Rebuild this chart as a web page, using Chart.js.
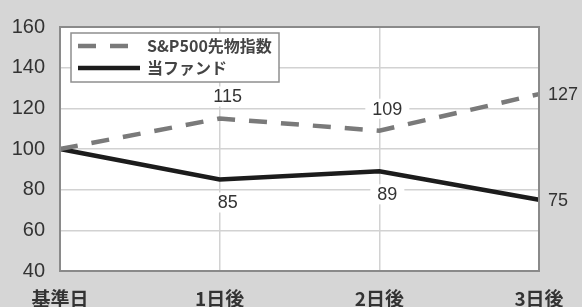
<!DOCTYPE html>
<html>
<head>
<meta charset="utf-8">
<script src="https://cdn.jsdelivr.net/npm/chart.js@4.4.0/dist/chart.umd.min.js"></script>
<style>
  html, body { margin: 0; padding: 0; background: #d6d6d6; }
  canvas { display: block; }
</style>
</head>
<body>
<canvas id="chart" width="582" height="307"></canvas>
<script>
const categories = ['基準日', '1日後', '2日後', '3日後'];
const sp500Values = [100, 115, 109, 127];
const fundValues = [100, 85, 89, 75];
const seriesNames = ['S&P500先物指数', '当ファンド'];
const yMin = 40;
const yMax = 160;
const yStep = 20;

const numFont = '"Liberation Sans", Arial, sans-serif';
const jpFont = '"Noto Sans CJK JP", "Noto Sans", sans-serif';

// background, value labels, legend box and frame
const decorPlugin = {
    id: 'decor',
    beforeDraw(chart) {
        const ctx = chart.ctx;
        const area = chart.chartArea;
        ctx.save();
        ctx.fillStyle = '#d6d6d6';
        ctx.fillRect(0, 0, chart.width, chart.height);
        ctx.fillStyle = '#ffffff';
        ctx.fillRect(area.left, area.top, area.right - area.left, area.bottom - area.top);
        ctx.restore();
    },
    beforeDatasetsDraw(chart) {
        const ctx = chart.ctx;
        const area = chart.chartArea;
        ctx.save();

        // value labels
        ctx.font = '18px ' + numFont;
        ctx.textBaseline = 'middle';
        chart.data.datasets.forEach((ds, di) => {
            const meta = chart.getDatasetMeta(di);
            const last = ds.data.length - 1;
            ds.data.forEach((v, i) => {
                if (i === 0) return;
                const pt = meta.data[i];
                const text = String(v);
                if (i === last) {
                    ctx.textAlign = 'left';
                    ctx.fillStyle = '#333333';
                    ctx.fillText(text, pt.x + 9, pt.y + 1);
                    return;
                }
                const x = pt.x + 8;
                const y = di === 0 ? pt.y - 22 : pt.y + 23;
                const w = ctx.measureText(text).width + 14;
                ctx.fillStyle = '#ffffff';
                ctx.fillRect(x - w / 2, y - 10, w, 20);
                ctx.textAlign = 'center';
                ctx.fillStyle = '#333333';
                ctx.fillText(text, x, y + 1);
            });
        });

        // legend
        const bx = area.left + 11;
        const by = area.top + 6;
        ctx.fillStyle = '#ffffff';
        ctx.fillRect(bx, by, 208, 49);
        ctx.strokeStyle = '#8f8f8f';
        ctx.lineWidth = 1.5;
        ctx.strokeRect(bx, by, 208, 49);
        chart.data.datasets.forEach((ds, di) => {
            const ry = by + 13 + di * 22;
            ctx.beginPath();
            ctx.setLineDash(ds.borderDash || []);
            ctx.strokeStyle = ds.borderColor;
            ctx.lineWidth = ds.borderWidth;
            ctx.moveTo(bx + 7, ry);
            ctx.lineTo(bx + 69, ry);
            ctx.stroke();
            ctx.setLineDash([]);
            ctx.font = 'bold 16px ' + jpFont;
            ctx.textAlign = 'left';
            ctx.textBaseline = 'middle';
            ctx.fillStyle = '#444444';
            ctx.fillText(ds.label, bx + 76, ry);
        });
        ctx.restore();
    },
    afterDraw(chart) {
        const ctx = chart.ctx;
        const area = chart.chartArea;
        ctx.save();
        ctx.strokeStyle = '#8a8a8a';
        ctx.lineWidth = 2;
        ctx.strokeRect(area.left, area.top, area.right - area.left, area.bottom - area.top);
        ctx.restore();
    }
};

const ctx = document.getElementById('chart').getContext('2d');
new Chart(ctx, {
    type: 'line',
    data: {
        labels: categories,
        datasets: [{
            label: seriesNames[0],
            data: sp500Values,
            borderColor: '#7a7a7a',
            borderWidth: 4.5,
            borderDash: [18, 14],
            pointRadius: 0,
            tension: 0,
            fill: false
        }, {
            label: seriesNames[1],
            data: fundValues,
            borderColor: '#1c1c1c',
            borderWidth: 4.5,
            pointRadius: 0,
            tension: 0,
            fill: false
        }]
    },
    options: {
        responsive: false,
        animation: false,
        layout: { padding: { top: 23, right: 43, left: 0, bottom: 0 } },
        plugins: {
            legend: { display: false },
            tooltip: { enabled: false }
        },
        scales: {
            x: {
                offset: false,
                grid: { color: '#d2d2d2', lineWidth: 1.5, drawTicks: false },
                border: { display: false },
                ticks: {
                    color: '#333333',
                    padding: 16,
                    maxRotation: 0,
                    autoSkip: false,
                    font: { family: jpFont, size: 19, weight: 'bold' }
                },
                afterFit(scale) { scale.height = 36; }
            },
            y: {
                min: yMin,
                max: yMax,
                grid: { color: '#d2d2d2', lineWidth: 1.5, drawTicks: false },
                border: { display: false },
                ticks: {
                    stepSize: yStep,
                    color: '#333333',
                    padding: 15,
                    font: { family: '"Liberation Sans Narrow", ' + numFont, size: 20 }
                },
                afterFit(scale) { scale.width = 60; }
            }
        }
    },
    plugins: [decorPlugin]
});
</script>
</body>
</html>
